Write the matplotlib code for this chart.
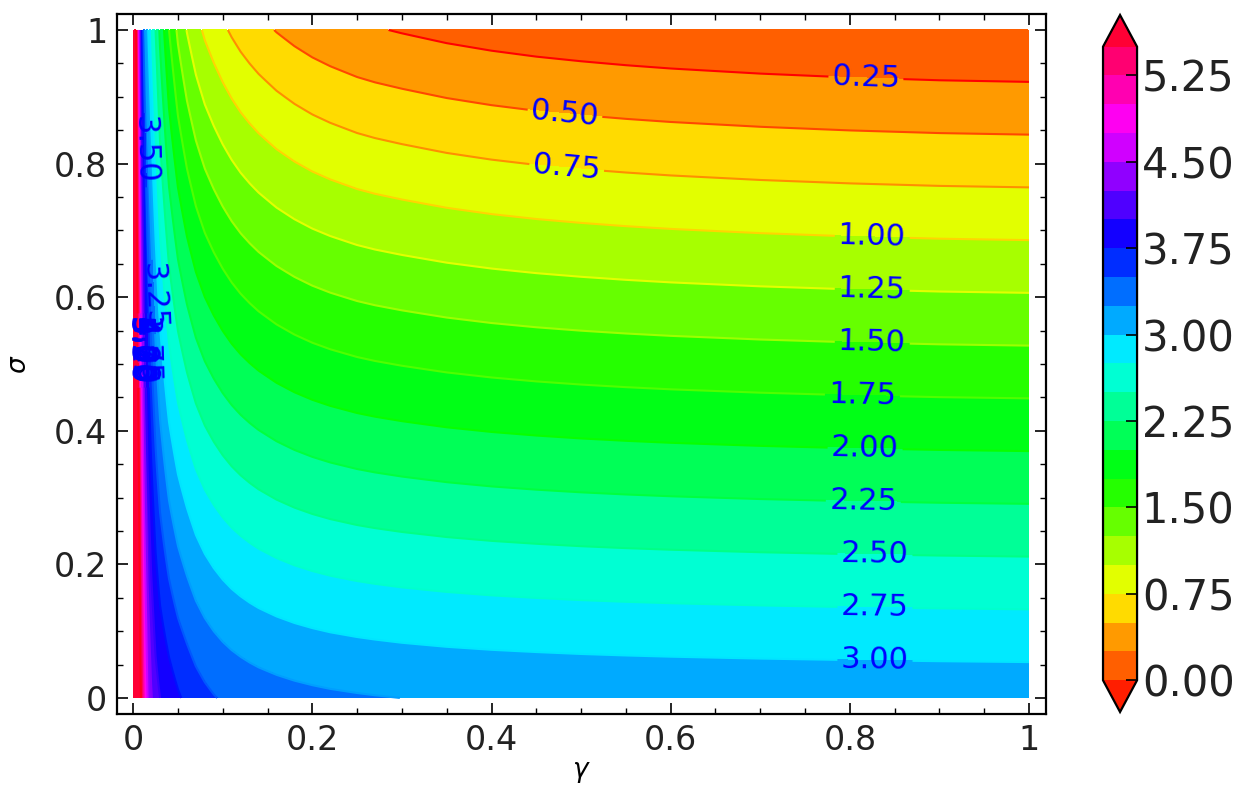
import numpy as np
import matplotlib
matplotlib.use("Agg")
import matplotlib.pyplot as plt
from matplotlib.colors import Normalize
from matplotlib.ticker import MultipleLocator, FormatStrFormatter

# gamma samples (dense near 0 where the field gets steep)
gamma = np.array([0.0, 0.004, 0.008, 0.012, 0.016, 0.02, 0.025, 0.03, 0.04, 0.05,
                  0.06, 0.07, 0.08, 0.09, 0.1, 0.11, 0.12, 0.13, 0.14, 0.16,
                  0.18, 0.2, 0.22, 0.25, 0.27, 0.3, 0.35, 0.4, 0.45, 0.5,
                  0.55, 0.6, 0.7, 0.8, 0.9, 1.0])
# value read along the bottom edge (sigma = 0)
z_sigma0 = np.array([9.0, 6.8, 5.6, 4.95, 4.5, 4.28, 4.1, 4.0, 3.88, 3.78,
                     3.70, 3.62, 3.561, 3.514, 3.476, 3.445, 3.42, 3.398, 3.379, 3.349,
                     3.325, 3.306, 3.29, 3.272, 3.262, 3.249, 3.233, 3.221, 3.212, 3.204,
                     3.198, 3.193, 3.185, 3.179, 3.174, 3.17])
# value read along the top edge (sigma = 1)
z_sigma1 = np.array([7.5, 5.0, 3.9, 3.35, 3.05, 2.8, 2.5, 2.2, 1.75, 1.45,
                     1.24, 1.08, 0.96, 0.87, 0.79, 0.72, 0.66, 0.61, 0.565, 0.49,
                     0.43, 0.38, 0.34, 0.29, 0.265, 0.235, 0.19, 0.155, 0.127, 0.105,
                     0.086, 0.07, 0.045, 0.026, 0.012, 0.004])

levels = np.arange(0, 5.51, 0.25)
line_levels = np.arange(0.25, 5.51, 0.25)
cbar_ticks = np.arange(0, 5.26, 0.75)

# label spots (gamma, sigma) per contour level
label_pos = {0.25: (0.818, 0.93), 0.5: (0.482, 0.875), 0.75: (0.484, 0.795),
             1.0: (0.825, 0.69), 1.25: (0.825, 0.61), 1.5: (0.825, 0.53),
             1.75: (0.814, 0.45), 2.0: (0.817, 0.37), 2.25: (0.815, 0.29),
             2.5: (0.828, 0.21), 2.75: (0.828, 0.13), 3.0: (0.828, 0.05),
             3.25: (0.017, 0.6), 3.5: (0.012, 0.82)}

# field is linear in sigma between the two edge profiles
sigma = np.linspace(0, 1, 101)
G, S = np.meshgrid(gamma, sigma)
Z = (1 - S) * z_sigma0[None, :] + S * z_sigma1[None, :]

hsv = plt.get_cmap('hsv')
cmap = hsv.with_extremes(under=hsv(0.125 / 6), over=hsv(5.875 / 6))
norm = Normalize(vmin=-0.25, vmax=5.75)

fig = plt.figure(figsize=(12.56, 7.98), dpi=100)
ax = fig.add_axes([0.0932, 0.1053, 0.7396, 0.8772])
cax = fig.add_axes([0.8782, 0.1078, 0.0271, 0.8734])

cf = ax.contourf(G, S, Z, levels=levels, cmap=cmap, norm=norm, extend='both')
cs = ax.contour(G, S, Z, levels=line_levels, cmap='hsv', linewidths=1.5)


def closest_on_path(v, target, sx=896, sy=668):
    # project the target onto each segment of the path, in pixel units
    p = np.array(target) * [sx, sy]
    a = v[:-1] * [sx, sy]
    b = v[1:] * [sx, sy]
    ab = b - a
    L = (ab ** 2).sum(axis=1)
    L[L == 0] = 1e-12
    t = np.clip(((p - a) * ab).sum(axis=1) / L, 0, 1)
    q = a + t[:, None] * ab
    k = np.argmin(((q - p) ** 2).sum(axis=1))
    return tuple(q[k] / [sx, sy])


pts = []
for i, lev in enumerate(cs.levels):
    target = label_pos.get(round(float(lev), 2), (0.005, 0.52))
    v = cs.get_paths()[i].vertices
    if len(v) < 2:
        continue
    pts.append(closest_on_path(v, target))
ax.clabel(cs, manual=pts, colors='b', fontsize=22, fmt='%.2f')

ax.set_xlim(-0.018, 1.019)
ax.set_ylim(-0.024, 1.024)
ax.xaxis.set_major_locator(MultipleLocator(0.2))
ax.yaxis.set_major_locator(MultipleLocator(0.2))
ax.xaxis.set_minor_locator(MultipleLocator(0.05))
ax.yaxis.set_minor_locator(MultipleLocator(0.05))
ax.xaxis.set_major_formatter(FormatStrFormatter('%g'))
ax.yaxis.set_major_formatter(FormatStrFormatter('%g'))
ax.tick_params(which='both', direction='in', top=True, right=True)
ax.tick_params(which='major', length=8, width=1.2, labelsize=24, pad=7,
               labelcolor='#222222')
ax.tick_params(which='minor', length=4, width=1.0)
for sp in ax.spines.values():
    sp.set_linewidth(1.6)
ax.set_xlabel(r'$\gamma$', fontsize=19, labelpad=2)
ax.set_ylabel(r'$\sigma$', fontsize=19, labelpad=16)

cb = fig.colorbar(cf, cax=cax, ticks=cbar_ticks, format='%.2f')
cb.ax.tick_params(direction='in', length=8, width=1.2, labelsize=30, labelcolor='#222222')
cb.outline.set_linewidth(1.6)

fig.savefig('out.png', dpi=100)
